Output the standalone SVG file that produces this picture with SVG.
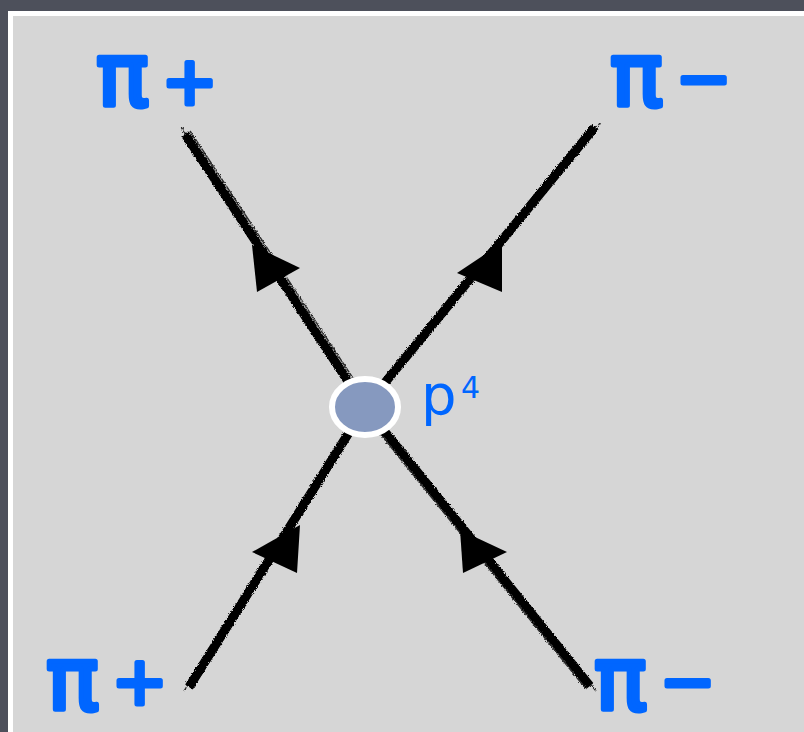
<svg xmlns="http://www.w3.org/2000/svg" width="804" height="732" viewBox="0 0 804 732">
<defs>
<style>
.lbl{font-family:"DejaVu Sans",sans-serif;fill:#0066ff;stroke:#0066ff;stroke-width:5;stroke-linejoin:round;stroke-linecap:round}
.pi{font-size:88px}
.sg{font-size:66px}
.main{stroke:#000;stroke-width:9;stroke-linecap:butt;fill:none}
.rough{stroke:#000;stroke-width:1.4;fill:none;opacity:0.8}
.arr{fill:#000}
.sm{font-family:"DejaVu Sans",sans-serif;fill:#0066ff}
</style>
<filter id="sketch" x="-10%" y="-10%" width="120%" height="120%">
<feTurbulence type="fractalNoise" baseFrequency="0.9" numOctaves="2" seed="3" result="n"/>
<feDisplacementMap in="SourceGraphic" in2="n" scale="3.5" xChannelSelector="R" yChannelSelector="G"/>
</filter>
</defs>
<rect x="0" y="0" width="804" height="732" fill="#4d505b"/>
<rect x="10.5" y="13.5" width="796" height="730" fill="#d6d6d6" stroke="#ffffff" stroke-width="5"/>
<g id="connectors">
<g id="line-tl">
<g filter="url(#sketch)">
<line class="main" x1="185" y1="134" x2="365" y2="407"/>
<line class="rough" x1="181" y1="127" x2="362" y2="402"/>
<line class="rough" x1="190" y1="131" x2="370" y2="404"/>
</g>
<polygon class="arr" points="252,245 300,268 257,292"/>
</g>
<g id="line-tr">
<g filter="url(#sketch)">
<line class="main" x1="595" y1="127" x2="365" y2="407"/>
<line class="rough" x1="600" y1="123" x2="369" y2="404"/>
<line class="rough" x1="591" y1="126" x2="361" y2="406"/>
</g>
<polygon class="arr" points="502,243 457,273 502,292"/>
</g>
<g id="line-bl">
<g filter="url(#sketch)">
<line class="main" x1="189" y1="687" x2="365" y2="407"/>
<line class="rough" x1="184" y1="691" x2="360" y2="410"/>
<line class="rough" x1="194" y1="686" x2="370" y2="406"/>
</g>
<polygon class="arr" points="300,525 252,552 297,573"/>
</g>
<g id="line-br">
<g filter="url(#sketch)">
<line class="main" x1="590" y1="686" x2="365" y2="407"/>
<line class="rough" x1="596" y1="691" x2="370" y2="410"/>
<line class="rough" x1="586" y1="689" x2="361" y2="410"/>
</g>
<polygon class="arr" points="460,530 507,552 463,573"/>
</g>
</g>
<g id="vertex">
<ellipse cx="365" cy="407" rx="33" ry="28" fill="#8699bf" stroke="#ffffff" stroke-width="6"/>
<text class="sm" x="421" y="414" font-size="56">p</text>
<text class="sm" x="461" y="398" font-size="30">4</text>
</g>
<g id="pi-plus-top"><text class="lbl"><tspan class="pi" x="96" y="106">π</tspan><tspan class="sg" x="162" y="104">+</tspan></text></g>
<g id="pi-minus-top"><text class="lbl"><tspan class="pi" x="610" y="106">π</tspan><tspan class="sg" x="676" y="101">−</tspan></text></g>
<g id="pi-plus-bottom"><text class="lbl"><tspan class="pi" x="46" y="710">π</tspan><tspan class="sg" x="112" y="704">+</tspan></text></g>
<g id="pi-minus-bottom"><text class="lbl"><tspan class="pi" x="594" y="710">π</tspan><tspan class="sg" x="660" y="704">−</tspan></text></g>
</svg>
